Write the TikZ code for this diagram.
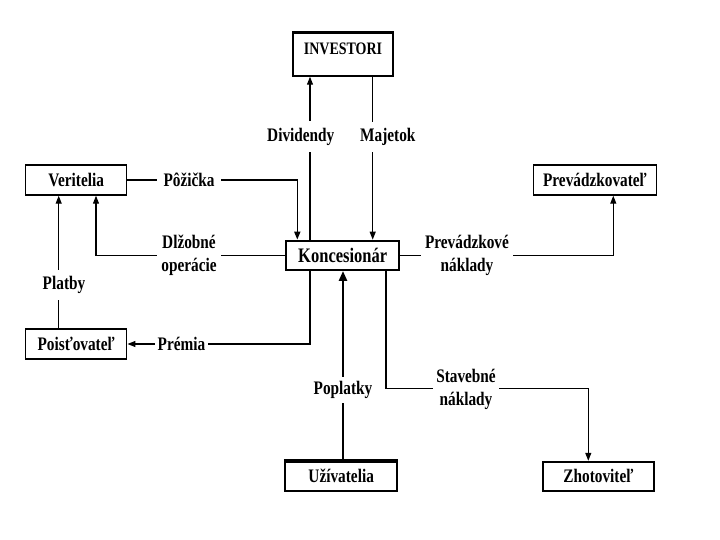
\documentclass[tikz,border=0pt]{standalone}
\usepackage{fontspec}
\setmainfont{Liberation Serif}
\usetikzlibrary{arrows.meta}
\newcommand{\vs}[1]{\scalebox{1}[1.25]{#1}}
\begin{document}
\begin{tikzpicture}[x=1bp,y=-1bp,
  box/.style={draw, line width=1.5bp, inner sep=0pt, minimum height=30bp,
    font=\bfseries\fontsize{15.3bp}{18bp}\selectfont},
  lbl/.style={fill=white, inner xsep=4bp, inner ysep=6.5bp, align=center,
    font=\bfseries\fontsize{15.3bp}{23bp}\selectfont},
  conn/.style={line width=1.1bp, -{Triangle[width=6bp,length=8bp]}}]
\useasboundingbox (0,0) rectangle (720,540);
\fill[white] (0,0) rectangle (720,540);
% boxes
\node[box, minimum width=100bp, minimum height=43bp, text depth=11bp,
  font=\bfseries\fontsize{14bp}{16bp}\selectfont] (inv) at (343,54.5) {\vs{INVESTORI}};
\node[box, minimum width=101bp] (ver) at (76.2,180) {\vs{Veritelia}};
\node[box, minimum width=101bp] (poi) at (76.2,344) {\vs{Poisťovateľ}};
\node[box, minimum width=113bp, minimum height=29.3bp, line width=2bp,
  font=\bfseries\fontsize{16.5bp}{18bp}\selectfont] (kon) at (342.7,255.3) {\vs{Koncesionár}};
\node[box, minimum width=123.4bp] (pre) at (595,180) {\vs{Prevádzkovateľ}};
\node[box, minimum width=112.3bp, minimum height=29.3bp, line width=2.2bp] (uzi) at (341.2,476.3) {\vs{Užívatelia}};
\node[box, minimum width=111.6bp, minimum height=29.3bp, line width=1.8bp] (zho) at (598.5,476.3) {\vs{Zhotoviteľ}};
\draw[line width=3bp] (inv.north west) -- (inv.north east);
\draw[line width=3bp] (uzi.north west) -- (uzi.north east);
% connectors
\coordinate (sb) at (588.3,388.3);
\draw[conn, line width=1.6bp] (ver.east) -| (kon.north -| 297.3,0);
\draw[conn] (kon.west) -| (ver.south -| 96,0);
\draw[conn] (poi.north -| 58.7,0) -- (ver.south -| 58.7,0);
\draw[conn] (kon.south -| 310,0) |- (poi.east);
\draw[conn] (kon.north -| 310,0) -- (inv.south -| 310,0);
\draw[conn] (inv.south -| 372.7,0) -- (kon.north -| 372.7,0);
\draw[conn] (kon.east) -| (pre.south -| 613.3,0);
\draw[conn] (kon.south -| 386,0) |- (sb) -- (zho.north -| sb);
\draw[line width=2.4bp, -{Triangle[width=8bp,length=10bp]}] (uzi.north -| 343,0) -- (kon.south -| 343,0);
% labels
\node[lbl, inner xsep=6.5bp] (lpoz) at (189,180) {\vs{Pôžička}};
\node[lbl, inner xsep=4.5bp] (ldlz) at (189,255) {\vs{Dlžobné}\\\vs{operácie}};
\node[lbl] (lpla) at (64,285) {\vs{Platby}};
\node[lbl, inner xsep=2.7bp] (lpre) at (181.5,344) {\vs{Prémia}};
\node[lbl] (ldiv) at (300.8,136.7) {\vs{Dividendy}};
\node[lbl] (lmaj) at (387.8,136.7) {\vs{Majetok}};
\node[lbl] (lprv) at (467,255) {\vs{Prevádzkové}\\\vs{náklady}};
\node[lbl, inner xsep=3.3bp] (lsta) at (466,389.5) {\vs{Stavebné}\\\vs{náklady}};
\node[lbl, inner ysep=4bp] (lpop) at (343,390) {\vs{Poplatky}};
\end{tikzpicture}
\end{document}
